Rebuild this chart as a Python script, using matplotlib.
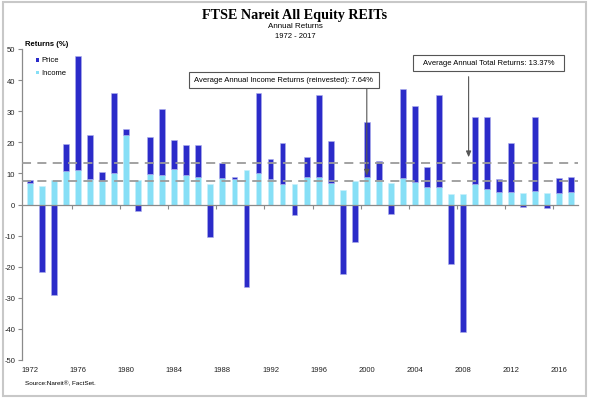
import matplotlib
matplotlib.use('Agg')
import matplotlib.pyplot as plt
from matplotlib.patches import Rectangle
import numpy as np

# ---------------- data ----------------
years = list(range(1972, 2018))
income = [6.8, 6.1, 7.8, 10.7, 11.2, 8.3, 7.4, 10.2, 22.2, 8.0,
          9.9, 9.5, 11.4, 9.4, 8.7, 6.6, 8.6, 8.2, 11.1, 10.1,
          8.2, 6.7, 6.6, 8.7, 8.9, 6.8, 4.8, 7.5, 8.8, 8.0,
          6.8, 8.6, 7.2, 5.5, 5.5, 3.4, 3.4, 6.7, 4.9, 3.9,
          4.0, 3.6, 4.5, 3.7, 3.8, 4.1]
price = [1.2, -21.7, -29.2, 8.6, 36.4, 14.1, 2.9, 25.7, 2.2, -2.0,
         11.7, 21.1, 9.5, 9.7, 10.5, -10.3, 4.9, 0.6, -26.5, 25.6,
         6.4, 13.0, -3.5, 6.6, 26.4, 13.5, -22.3, -12.2, 17.6, 5.9,
         -3.2, 28.5, 24.4, 6.7, 29.6, -19.0, -41.0, 21.3, 23.1, 4.4,
         15.7, -0.7, 23.5, -1.0, 4.7, 4.6]
avg_total = 13.37
avg_income = 7.64
tick_years = list(range(1972, 2017, 4))
y_ticks = list(range(-50, 51, 10))

title = "FTSE Nareit All Equity REITs"
subtitle1 = "Annual Returns"
subtitle2 = "1972 - 2017"
ylabel = "Returns (%)"
source = "Source:Nareit\u00ae, FactSet."
ann_income = "Average Annual Income Returns (reinvested): 7.64%"
ann_total = "Average Annual Total Returns: 13.37%"

price_color = '#2B2BC9'
income_color = '#86DFF6'
SANS = ['Liberation Sans', 'DejaVu Sans']
SERIF = ['Liberation Serif', 'DejaVu Serif']

W, H = 590, 402
def fx(px):
    return px / W
def fy(py):
    return 1 - py / H

XMIN, XMAX = 1971.35, 2017.55

fig = plt.figure(figsize=(W / 100, H / 100), dpi=100)
fig.patch.set_facecolor('white')

# outer frame
fig.add_artist(Rectangle((fx(3), fy(397)), fx(586) - fx(3), fy(3) - fy(397),
                         transform=fig.transFigure, fill=False,
                         ec='#c8c8c8', lw=1.5))

ax = fig.add_axes([fx(22), fy(361), fx(578) - fx(22), fy(50) - fy(361)])

inc = np.array(income)
pr = np.array(price)
bottoms = np.where(pr > 0, inc, 0)
ax.bar(years, inc, width=0.48, color=income_color, edgecolor='#c8f0fb',
       linewidth=0.4, zorder=2)
ax.bar(years, pr, bottom=bottoms, width=0.48, color=price_color,
       edgecolor='#aeb0ec', linewidth=0.4, zorder=2)

ax.axhline(avg_total, color='#9b9b9b', ls=(0, (5, 3.5)), lw=1.3, zorder=3)
ax.axhline(avg_income, color='#9b9b9b', ls=(0, (5, 3.5)), lw=1.3, zorder=3)

for s in ['top', 'right']:
    ax.spines[s].set_visible(False)
ax.spines['left'].set_color('#8a8a8a')
ax.spines['left'].set_linewidth(0.9)
ax.spines['bottom'].set_position(('data', 0))
ax.spines['bottom'].set_color('#8a8a8a')
ax.spines['bottom'].set_linewidth(0.9)
ax.spines['bottom'].set_zorder(4)

ax.set_yticks(y_ticks)
ax.set_yticklabels([str(v) for v in y_ticks], fontfamily=SANS)
ax.tick_params(axis='y', length=3, width=0.8, color='#8a8a8a',
               labelsize=5.5, labelcolor='#222222', pad=2)
boundaries = [y + 3.5 for y in tick_years if y + 3.5 < XMAX]
ax.set_xticks(boundaries)
ax.set_xticklabels([''] * len(boundaries))
ax.tick_params(axis='x', length=3, width=0.8, color='#8a8a8a', direction='out')

secax = ax.secondary_xaxis(0)
secax.set_xticks(tick_years)
secax.set_xticklabels([str(y) for y in tick_years], fontfamily=SANS)
secax.tick_params(length=0, pad=4, labelsize=5.5, labelcolor='#222222')
secax.spines['bottom'].set_visible(False)

ax.set_xlim(XMIN, XMAX)
ax.set_ylim(-50, 50)

# titles
fig.text(fx(295), fy(15), title, ha='center', va='center',
         fontsize=10.2, fontweight='bold', family=SERIF)
fig.text(fx(295), fy(27), subtitle1, ha='center', va='center',
         fontsize=5.8, family=SANS)
fig.text(fx(295), fy(36.5), subtitle2, ha='center', va='center',
         fontsize=5.5, family=SANS)
fig.text(fx(25), fy(44), ylabel, ha='left', va='center',
         fontsize=5.5, fontweight='bold', family=SANS)
fig.text(fx(25), fy(384), source, ha='left', va='center',
         fontsize=4.6, family=SANS)

# legend
for label, col, yc in [("Price", price_color, 61), ("Income", income_color, 73.5)]:
    fig.add_artist(Rectangle((fx(35.5), fy(yc + 1.8)), fx(3.6), fy(0) - fy(3.6),
                             transform=fig.transFigure, color=col, lw=0))
    fig.text(fx(41), fy(yc), label, ha='left', va='center',
             fontsize=5.5, family=SANS)

# annotation boxes
def box(x0, x1, y0, y1, text):
    fig.add_artist(Rectangle((fx(x0), fy(y1)), fx(x1) - fx(x0), fy(y0) - fy(y1),
                             transform=fig.transFigure, fc='white',
                             ec='#555555', lw=0.8, zorder=5))
    fig.text(fx((x0 + x1) / 2), fy((y0 + y1) / 2), text, ha='center',
             va='center', fontsize=5.5, family=SANS, zorder=6)

box(189, 379, 73, 89, ann_income)
box(413, 564, 56, 72, ann_total)

arrow_kw = dict(arrowstyle='-|>,head_length=0.35,head_width=0.15',
                color='#555555', lw=0.8, shrinkA=0, shrinkB=0)
ax.annotate('', xy=(2000, 9.3), xycoords='data',
            xytext=(2000, 37.4), textcoords='data',
            arrowprops=arrow_kw, zorder=6)
ax.annotate('', xy=(2008.46, 15.2), xycoords='data',
            xytext=(2008.46, 41.1), textcoords='data',
            arrowprops=arrow_kw, zorder=6)

fig.savefig('out.png', dpi=100, facecolor='white')
